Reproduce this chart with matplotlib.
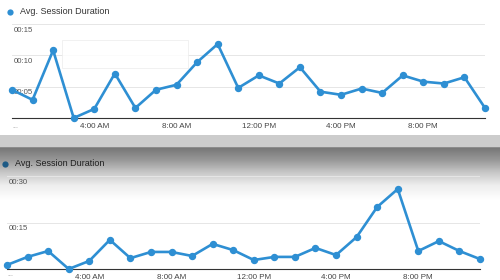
import numpy as np
import matplotlib
matplotlib.use('Agg')
import matplotlib.pyplot as plt
from matplotlib.patches import Rectangle

plt.rcParams['font.family'] = ['Liberation Sans', 'DejaVu Sans']

# data (seconds, hourly)
hours = list(range(24))
top_values = [4.5, 2.9, 10.8, 0.0, 1.45, 7.1, 1.6, 4.5, 5.3, 8.9, 11.8, 4.8,
              6.8, 5.5, 8.1, 4.2, 3.7, 4.7, 4.0, 6.8, 5.8, 5.5, 6.5, 1.6]
bottom_values = [1.3, 3.9, 5.8, 0.0, 2.6, 9.4, 3.5, 5.5, 5.5, 4.2, 8.1, 6.1,
                 2.9, 3.9, 3.9, 6.8, 4.5, 10.3, 20.0, 25.8, 5.8, 9.0, 5.8, 3.2]
tick_hours = [4, 8, 12, 16, 20]
tick_labels = ['4:00 AM', '8:00 AM', '12:00 PM', '4:00 PM', '8:00 PM']
top_yticks = [5, 10, 15]
top_ylabels = ['00:05', '00:10', '00:15']
bottom_yticks = [15, 30]
bottom_ylabels = ['00:15', '00:30']
series_name = 'Avg. Session Duration'

W, H = 500, 280
blue = '#2e8fd3'

fig = plt.figure(figsize=(W / 100, H / 100), dpi=100)

# background: white top, gray divider, shaded gradient into lower panel
bg = fig.add_axes([0, 0, 1, 1])
bg.set_axis_off()
rows = np.arange(H)
shade = np.ones(H)
shade[135:147] = 0.80
shade[147] = 0.55
grad = np.interp(rows, [148, 160, 172, 185, 200], [0.47, 0.60, 0.78, 0.93, 1.0])
shade[148:] = grad[148:]
img = np.repeat(shade[:, None], 10, axis=1)
bg.imshow(img, cmap='gray', vmin=0, vmax=1, aspect='auto', extent=[0, W, H, 0])
bg.set_xlim(0, W)
bg.set_ylim(H, 0)


def px(x0, y0, x1, y1):
    return [x0 / W, (H - y1) / H, (x1 - x0) / W, (y1 - y0) / H]


def draw_panel(ax, values, yticks, ylabels, ymax, dots_off):
    ax.set_facecolor('none')
    for v in yticks:
        ax.axhline(v, color='#e6e6e6', lw=0.7, zorder=1)
    for v, lbl in zip(yticks, ylabels):
        ax.annotate(lbl, (0, v), xytext=(1.5, -2), textcoords='offset points',
                    va='top', ha='left', fontsize=5.6, color='#555555', zorder=2)
    ax.plot(hours, values, color=blue, lw=1.9, marker='o', ms=4.3,
            clip_on=False, zorder=4)
    ax.set_xlim(0, 23)
    ax.set_ylim(0, ymax)
    for s in ['top', 'right', 'left']:
        ax.spines[s].set_visible(False)
    ax.spines['bottom'].set_color('#333333')
    ax.spines['bottom'].set_linewidth(0.8)
    ax.set_yticks([])
    ax.set_xticks(tick_hours)
    ax.set_xticklabels(tick_labels)
    ax.tick_params(axis='x', length=0, pad=3.5, labelsize=5.8, labelcolor='#444444')
    ax.annotate('...', (0, 0), xytext=(0, -dots_off), textcoords='offset points',
                fontsize=5, color='#999999', ha='left', va='baseline')


top = fig.add_axes(px(12, 24, 485, 118))
draw_panel(top, top_values, top_yticks, top_ylabels, 15, 7.2)
# faint tooltip box left on the screenshot
top.add_patch(Rectangle((2.45, 7.9), 6.1, 12.5 - 7.9, facecolor='white', alpha=0.85,
                        edgecolor='#ececec', lw=0.6, zorder=3))

bottom = fig.add_axes(px(7, 176, 480, 269))
draw_panel(bottom, bottom_values, bottom_yticks, bottom_ylabels, 30, 5.0)

# legends (drawn on the pixel-coordinate background axes)
bg.plot([10], [12], 'o', ms=4.5, color=blue, mec='none')
bg.text(20, 12, series_name, fontsize=6.5, color='#333333', va='center')
bg.plot([5], [164], 'o', ms=4.5, color='#1d5a85', mec='none')
bg.text(15, 164, series_name, fontsize=6.5, color='#1e1e1e', va='center')

fig.savefig('out.png', dpi=100)
